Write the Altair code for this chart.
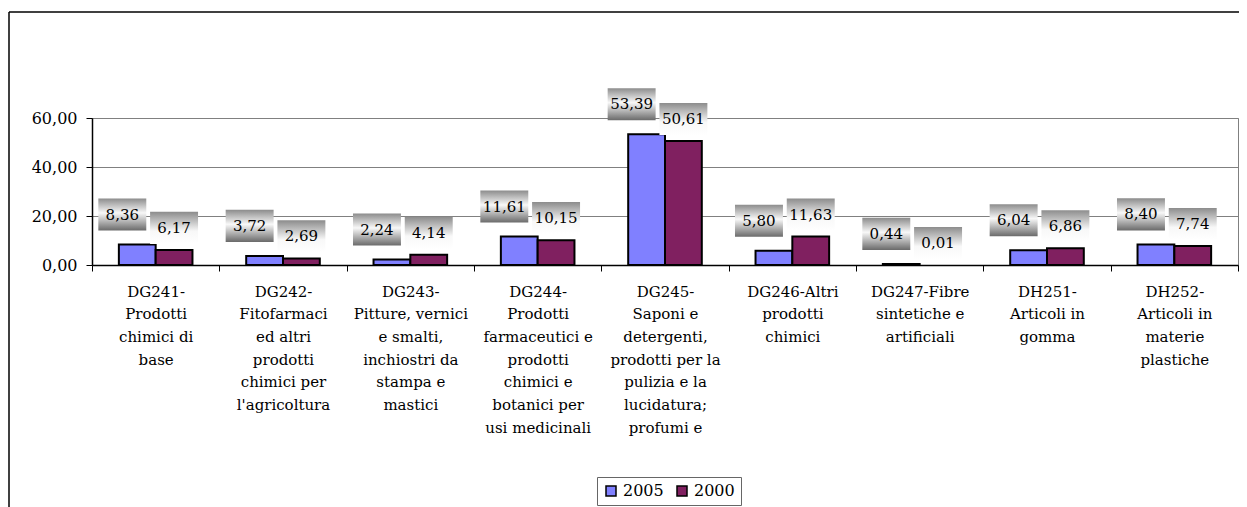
import altair as alt
import pandas as pd

categories = [
    "DG241-|Prodotti|chimici di|base",
    "DG242-|Fitofarmaci|ed altri|prodotti|chimici per|l'agricoltura",
    "DG243-|Pitture, vernici|e smalti,|inchiostri da|stampa e|mastici",
    "DG244-|Prodotti|farmaceutici e|prodotti|chimici e|botanici per|usi medicinali",
    "DG245-|Saponi e|detergenti,|prodotti per la|pulizia e la|lucidatura;|profumi e",
    "DG246-Altri|prodotti|chimici",
    "DG247-Fibre|sintetiche e|artificiali",
    "DH251-|Articoli in|gomma",
    "DH252-|Articoli in|materie|plastiche",
]
series = ["2005", "2000"]
v2005 = [8.36, 3.72, 2.24, 11.61, 53.39, 5.80, 0.44, 6.04, 8.40]
v2000 = [6.17, 2.69, 4.14, 10.15, 50.61, 11.63, 0.01, 6.86, 7.74]
colors = ["#8080FF", "#802060"]

rows = []
for c, a, b in zip(categories, v2005, v2000):
    rows.append({"cat": c, "series": "2005", "value": a})
    rows.append({"cat": c, "series": "2000", "value": b})
df = pd.DataFrame(rows)

FONT = "DejaVu Serif"

x_enc = alt.X("cat:N", sort=categories, title=None,
              scale=alt.Scale(paddingInner=0, paddingOuter=0),
              axis=alt.Axis(labelExpr="isValid(datum.value) ? split(datum.value, '|') : ''",
                            labelAngle=0,
                            labelFont=FONT, labelFontSize=15, labelLineHeight=22.7,
                            labelColor="black", labelBaseline="top", labelPadding=13,
                            labelLimit=0, labelOverlap=False, tickBand="extent",
                            tickSize=6, tickColor="black", domainColor="black",
                            domainWidth=1.5, grid=False))
xo_enc = alt.XOffset("series:N", sort=series,
                     scale=alt.Scale(domain=series, paddingInner=0, paddingOuter=0.73))
y_enc = alt.Y("value:Q", title=None,
              scale=alt.Scale(domain=[0, 60], nice=False),
              axis=alt.Axis(values=[0, 20, 40, 60],
                            labelExpr="replace(format(datum.value, '.2f'), '.', ',')",
                            labelFont=FONT, labelFontSize=16, labelColor="black",
                            labelPadding=9, tickSize=6, tickColor="black",
                            domainColor="black", domainWidth=1.5,
                            grid=True, gridColor="#808080", gridWidth=1))

base = alt.Chart(df).transform_calculate(
    label="replace(format(datum.value, '.2f'), '.', ',')"
)

bars = base.mark_bar(stroke="black", strokeWidth=2).encode(
    x=x_enc,
    xOffset=xo_enc,
    y=y_enc,
    color=alt.Color("series:N", sort=series,
                    scale=alt.Scale(domain=series, range=colors),
                    legend=alt.Legend(title=None, orient="none", legendX=505, legendY=359,
                                      direction="horizontal", symbolType="square",
                                      symbolSize=100, symbolStrokeColor="black",
                                      symbolStrokeWidth=1.5, labelFont=FONT,
                                      labelFontSize=16, labelColor="black",
                                      strokeColor="#666666", padding=6,
                                      columnPadding=10)),
    strokeOpacity=alt.condition("datum.value < 0.05", alt.value(0), alt.value(1)),
)

BOX = "M-1,-0.67L1,-0.67L1,0.67L-1,0.67Z"
grad_2005 = {"gradient": "linear", "x1": 0, "y1": 0, "x2": 0, "y2": 1,
             "stops": [{"offset": 0, "color": "#8c8c8c"},
                       {"offset": 0.45, "color": "#f8f8f8"},
                       {"offset": 1, "color": "#6a6a6a"}]}
grad_2000 = {"gradient": "linear", "x1": 0, "y1": 0, "x2": 0, "y2": 1,
             "stops": [{"offset": 0, "color": "#8c8c8c"},
                       {"offset": 0.6, "color": "#f8f8f8"},
                       {"offset": 1, "color": "#ffffff"}]}

def label_layers(s, grad, band_pos, dy):
    src = base.transform_filter(alt.datum.series == s)
    xe = alt.X("cat:N", sort=categories, bandPosition=band_pos)
    box = src.mark_point(shape=BOX, filled=True, fill=grad, opacity=1, strokeWidth=0,
                         size=2300, yOffset=dy).encode(x=xe, y="value:Q")
    txt = src.mark_text(font=FONT, fontSize=15, color="black", baseline="middle",
                        yOffset=dy).encode(x=xe, y="value:Q", text="label:N")
    return [box, txt]

frame_data = alt.Chart(pd.DataFrame({"a": [0]}))
left_border = frame_data.mark_rule(color="black", strokeWidth=1.5).encode(
    x=alt.value(-83), y=alt.value(-106), y2=alt.value(400))
top_border = frame_data.mark_rule(color="black", strokeWidth=1.5).encode(
    x=alt.value(-83), x2=alt.value(1200), y=alt.value(-106))

chart = alt.layer(
    bars,
    *label_layers("2005", grad_2005, 0.238, -30),
    *label_layers("2000", grad_2000, 0.6445, -22),
    left_border, top_border,
).properties(
    width=1146, height=147,
    autosize=alt.AutoSizeParams(type="none"),
    padding={"left": 84, "top": 110, "right": 1, "bottom": 242},
    background="white",
).configure_view(stroke="#808080", strokeWidth=1)

chart.save("out.html", embed_options={"renderer": "svg", "actions": False})
